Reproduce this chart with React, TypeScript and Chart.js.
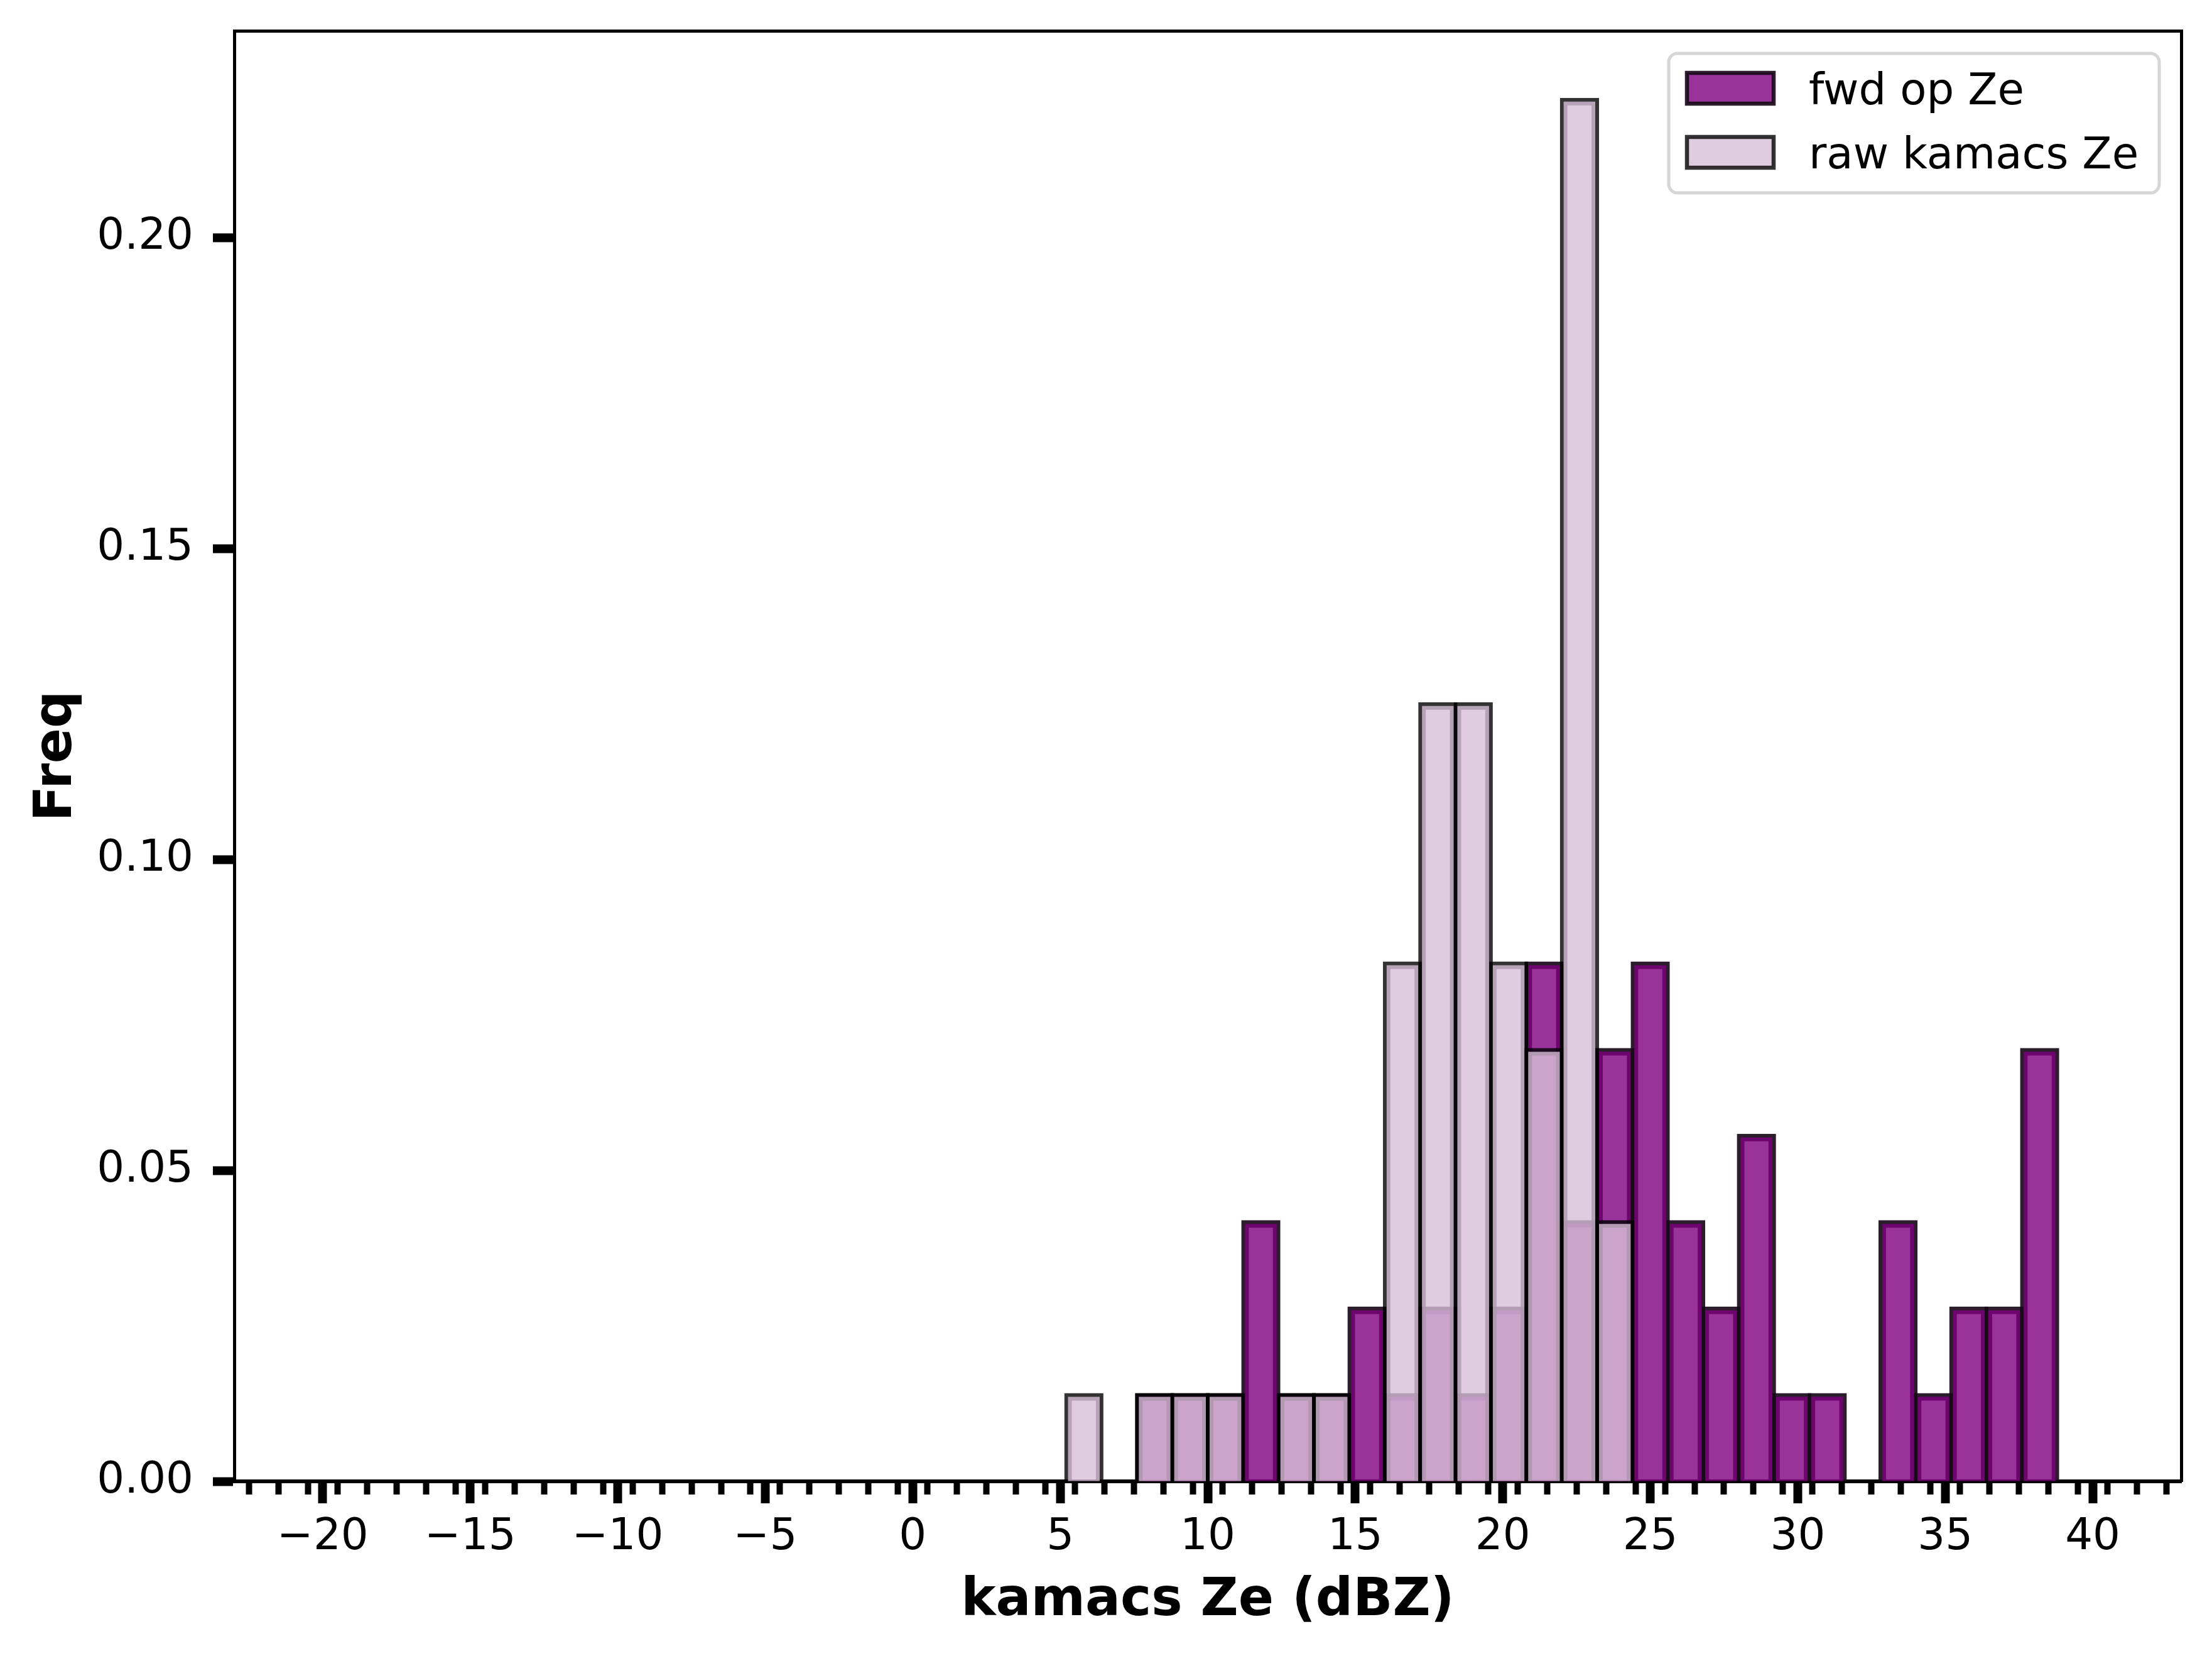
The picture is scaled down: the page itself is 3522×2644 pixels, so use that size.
import { useEffect, useRef } from "react";
import { Chart, registerables } from "chart.js";

Chart.register(...registerables);

const WIDTH = 3522;
const HEIGHT = 2644;

// centres of the 1.2 dBZ histogram bins (bins -20 .. 40, only the ones near the data)
const binCenters = [
  5.8, 7.0, 8.2, 9.4, 10.6, 11.8, 13.0, 14.2, 15.4, 16.6, 17.8, 19.0, 20.2, 21.4,
  22.6, 23.8, 25.0, 26.2, 27.4, 28.6, 29.8, 31.0, 32.2, 33.4, 34.6, 35.8, 37.0, 38.2,
];

const fwdOpZe = [
  0, 0, 0.0139, 0.0139, 0.0139, 0.0417, 0.0139, 0.0139, 0.0278, 0.0139, 0.0278, 0.0139, 0.0278, 0.0833,
  0.0417, 0.0694, 0.0833, 0.0417, 0.0278, 0.0556, 0.0139, 0.0139, 0, 0.0417, 0.0139, 0.0278, 0.0278, 0.0694,
];

const rawKamacsZe = [
  0.0139, 0, 0.0139, 0.0139, 0.0139, 0, 0.0139, 0.0139, 0, 0.0833, 0.125, 0.125, 0.0833, 0.0694,
  0.2222, 0.0417, 0, 0, 0, 0, 0, 0, 0, 0, 0, 0, 0, 0,
];

const seriesLabels = ["fwd op Ze", "raw kamacs Ze"];

const xRange = [-23, 43];
const yRange = [0, 0.2333];
const xMajorStep = 5;
const xMinorStep = 1;
const yStep = 0.05;

const toPoints = (vals: number[]) =>
  vals.map((v, i) => ({ x: binCenters[i], y: v === 0 ? null : v }));

const fmtX = (v: number) => (v < 0 ? "\u2212" + Math.abs(v) : String(v));

// scales keep a fixed size and must not push the chart area around
const fixSize = (w: number | null, h: number | null) => (s: any) => {
  if (w !== null) s.width = w;
  if (h !== null) s.height = h;
  s.paddingTop = 0;
  s.paddingBottom = 0;
  s.paddingLeft = 0;
  s.paddingRight = 0;
};

// matplotlib style framed legend in the upper right corner
const legendBox = {
  id: "legendBox",
  afterDraw(chart: any) {
    const { ctx, chartArea } = chart;
    const boxW = 781;
    const boxH = 222;
    const left = chartArea.right - 35 - boxW;
    const top = chartArea.top + 36;
    ctx.save();
    ctx.beginPath();
    ctx.roundRect(left, top, boxW, boxH, 14);
    ctx.fillStyle = "rgba(255,255,255,0.8)";
    ctx.fill();
    ctx.lineWidth = 5;
    ctx.strokeStyle = "#d6d6d6";
    ctx.stroke();
    chart.data.datasets.forEach((ds: any, i: number) => {
      const py = top + 31 + i * 102;
      ctx.fillStyle = ds.backgroundColor;
      ctx.fillRect(left + 29, py, 138, 49);
      ctx.lineWidth = 6.5;
      ctx.strokeStyle = ds.borderColor;
      ctx.strokeRect(left + 29, py, 138, 49);
      ctx.fillStyle = "#000";
      ctx.font = "69px 'DejaVu Sans'";
      ctx.textBaseline = "alphabetic";
      ctx.textAlign = "left";
      ctx.fillText(ds.label, left + 223, py + 50);
    });
    ctx.restore();
  },
};

const App = () => {
  const canvasRef = useRef<HTMLCanvasElement | null>(null);

  useEffect(() => {
    document.body.style.margin = "0";
    if (!canvasRef.current) return;
    Chart.defaults.font.family = "'DejaVu Sans', sans-serif";
    Chart.defaults.color = "#000";

    const chart = new Chart(canvasRef.current, {
      type: "bar",
      data: {
        datasets: [
          {
            label: seriesLabels[0],
            data: toPoints(fwdOpZe),
            backgroundColor: "rgba(128,0,128,0.8)",
            borderColor: "rgba(25,10,25,0.92)",
            order: 1,
            xAxisID: "x",
            yAxisID: "y",
          },
          {
            label: seriesLabels[1],
            data: toPoints(rawKamacsZe),
            backgroundColor: "rgba(216,191,216,0.8)",
            borderColor: "rgba(0,0,0,0.8)",
            order: 0,
            xAxisID: "x",
            yAxisID: "y",
          },
        ],
      } as any,
      options: {
        animation: false,
        responsive: false,
        devicePixelRatio: 1,
        events: [],
        layout: { padding: { left: 0, top: 49, right: 49, bottom: 0 } },
        datasets: {
          bar: {
            barPercentage: 1,
            categoryPercentage: 1,
            grouped: false,
            borderWidth: 6,
            inflateAmount: 3,
            borderSkipped: "start",
          },
        },
        plugins: {
          legend: { display: false },
          tooltip: { enabled: false },
        },
        scales: {
          x: {
            type: "linear",
            position: "bottom",
            min: xRange[0],
            max: xRange[1],
            offset: false,
            weight: 1,
            z: 1,
            grid: {
              display: true,
              drawOnChartArea: false,
              drawTicks: true,
              tickLength: 35,
              tickWidth: 14,
              tickColor: "#000",
              offset: false,
            },
            border: { display: true, color: "#000", width: 6 },
            ticks: {
              stepSize: xMajorStep,
              includeBounds: false,
              autoSkip: false,
              maxRotation: 0,
              padding: 14,
              color: "#000",
              font: { size: 69 },
              callback: (v: any) => fmtX(Number(v)),
            },
            title: {
              display: true,
              text: "kamacs Ze (dBZ)",
              color: "#000",
              font: { size: 83, weight: "bold" },
              padding: { top: 0, bottom: 45 },
            },
            afterFit: fixSize(null, 286),
          },
          xMinor: {
            type: "linear",
            position: "bottom",
            min: xRange[0],
            max: xRange[1],
            offset: false,
            weight: 0,
            grid: {
              display: true,
              drawOnChartArea: false,
              drawTicks: true,
              tickLength: 21,
              tickWidth: 10,
              tickColor: "#000",
            },
            border: { display: false },
            ticks: { display: false, stepSize: xMinorStep, autoSkip: false },
            afterFit: fixSize(null, 0),
          },
          y: {
            type: "linear",
            position: "left",
            min: yRange[0],
            max: yRange[1],
            grid: {
              display: true,
              drawOnChartArea: false,
              drawTicks: true,
              tickLength: 34,
              tickWidth: 14,
              tickColor: "#000",
            },
            border: { display: true, color: "#000", width: 5 },
            ticks: {
              stepSize: yStep,
              includeBounds: false,
              padding: 31,
              color: "#000",
              font: { size: 69 },
              callback: (v: any) => Number(v).toFixed(2),
            },
            title: {
              display: true,
              text: "Freq",
              color: "#000",
              font: { size: 83, weight: "bold" },
              padding: { top: 42, bottom: 0 },
            },
            afterFit: fixSize(373, null),
          },
          xTop: {
            type: "linear",
            position: "top",
            grid: { display: false },
            ticks: { display: false },
            border: { display: true, color: "#000", width: 5 },
            afterFit: fixSize(null, 0),
          },
          yRight: {
            type: "linear",
            position: "right",
            grid: { display: false },
            ticks: { display: false },
            border: { display: true, color: "#000", width: 5 },
            afterFit: fixSize(0, null),
          },
        },
      } as any,
      plugins: [legendBox],
    });

    return () => {
      chart.destroy();
    };
  }, []);

  return (
    <div style={{ width: WIDTH, height: HEIGHT, background: "#fff" }}>
      <canvas ref={canvasRef} width={WIDTH} height={HEIGHT} style={{ width: WIDTH, height: HEIGHT, display: "block" }} />
    </div>
  );
};

export default App;
